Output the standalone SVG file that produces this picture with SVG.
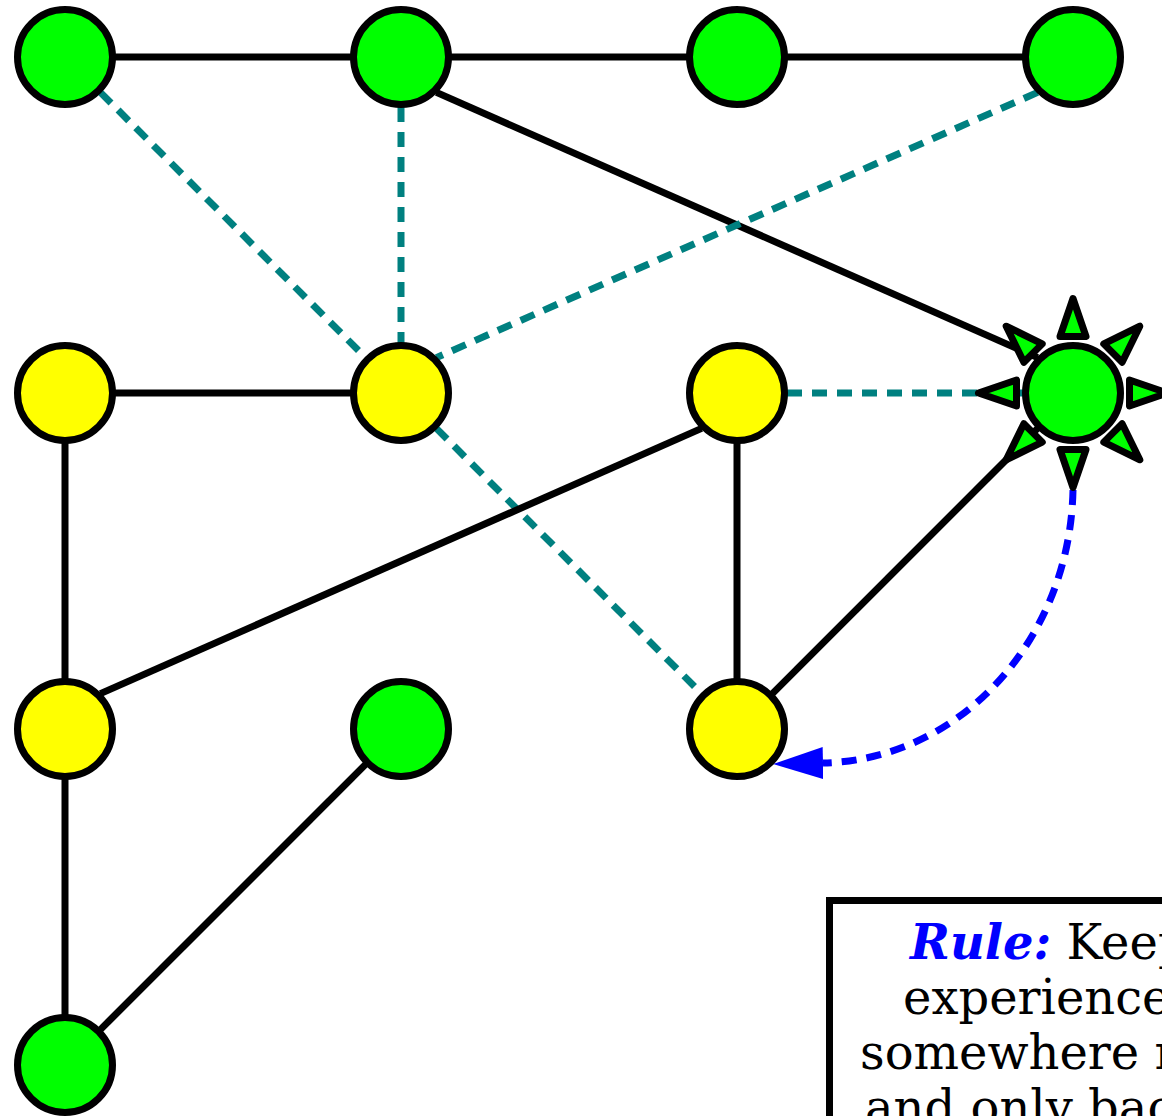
<svg xmlns="http://www.w3.org/2000/svg" width="1162" height="1116" viewBox="0 0 1162 1116">
<style>
.solid{stroke:#000;stroke-width:7;fill:none}
.dash{stroke:#008080;stroke-width:7;stroke-dasharray:15 10;fill:none}
.blue{stroke:#0000ff;stroke-width:7;stroke-dasharray:15 10;fill:none}
.g{fill:#00ff00;stroke:#000;stroke-width:7}
.y{fill:#ffff00;stroke:#000;stroke-width:7}
.ray{fill:#00ff00;stroke:#000;stroke-width:7;stroke-linejoin:round}
.txt{font-family:"DejaVu Serif","Liberation Serif",serif;font-size:48px;fill:#000}
.rule{font-weight:bold;font-style:italic;fill:#0000ff}
</style>
<defs>
<marker id="ab" markerUnits="userSpaceOnUse" markerWidth="52" markerHeight="36" viewBox="0 -18 52 36" refX="0" refY="0" orient="auto">
<path d="M0,-16 L50,0 L0,16 z" fill="#0000ff"/>
</marker>
</defs>
<rect width="1162" height="1116" fill="#fff"/>
<g id="connectors">
<line class="solid" x1="115" y1="57" x2="351" y2="57"/>
<line class="solid" x1="451" y1="57" x2="687" y2="57"/>
<line class="solid" x1="787" y1="57" x2="1023" y2="57"/>
<line class="solid" x1="436.4" y1="92.4" x2="1037.6" y2="357.6"/>
<line class="dash" x1="100.4" y1="92.4" x2="365.6" y2="357.6"/>
<line class="dash" x1="401" y1="107" x2="401" y2="343"/>
<line class="dash" x1="1037.6" y1="92.4" x2="436.4" y2="357.6"/>
<line class="solid" x1="115" y1="393" x2="351" y2="393"/>
<line class="dash" x1="787" y1="393" x2="1023" y2="393"/>
<line class="dash" x1="436.4" y1="428.4" x2="701.6" y2="693.6"/>
<line class="solid" x1="65" y1="443" x2="65" y2="679"/>
<line class="solid" x1="701.6" y1="428.4" x2="100.4" y2="693.6"/>
<line class="solid" x1="737" y1="443" x2="737" y2="679"/>
<line class="solid" x1="772.4" y1="693.6" x2="1037.6" y2="428.4"/>
<line class="solid" x1="65" y1="779" x2="65" y2="1015"/>
<line class="solid" x1="365.6" y1="764.4" x2="100.4" y2="1029.6"/>
<path class="blue" d="M1073,490 C1070,640 960,760 823,763" marker-end="url(#ab)"/>
</g>
<g id="n0"><circle class="g" cx="65" cy="57" r="47.5"/></g>
<g id="n1"><circle class="g" cx="401" cy="57" r="47.5"/></g>
<g id="n2"><circle class="g" cx="737" cy="57" r="47.5"/></g>
<g id="n3"><circle class="g" cx="1073" cy="57" r="47.5"/></g>
<g id="n4"><circle class="y" cx="65" cy="393" r="47.5"/></g>
<g id="n5"><circle class="y" cx="401" cy="393" r="47.5"/></g>
<g id="n6"><circle class="y" cx="737" cy="393" r="47.5"/></g>
<g id="n7">
<g transform="translate(1073,393)">
<polygon class="ray" points="0,-94.5 13,-56.5 -13,-56.5"/>
<polygon class="ray" points="0,-94.5 13,-56.5 -13,-56.5" transform="rotate(45)"/>
<polygon class="ray" points="0,-94.5 13,-56.5 -13,-56.5" transform="rotate(90)"/>
<polygon class="ray" points="0,-94.5 13,-56.5 -13,-56.5" transform="rotate(135)"/>
<polygon class="ray" points="0,-94.5 13,-56.5 -13,-56.5" transform="rotate(180)"/>
<polygon class="ray" points="0,-94.5 13,-56.5 -13,-56.5" transform="rotate(225)"/>
<polygon class="ray" points="0,-94.5 13,-56.5 -13,-56.5" transform="rotate(270)"/>
<polygon class="ray" points="0,-94.5 13,-56.5 -13,-56.5" transform="rotate(315)"/>
<circle class="g" cx="0" cy="0" r="47.5"/>
</g>
</g>
<g id="n8"><circle class="y" cx="65" cy="729" r="47.5"/></g>
<g id="n9"><circle class="g" cx="401" cy="729" r="47.5"/></g>
<g id="n10"><circle class="y" cx="737" cy="729" r="47.5"/></g>
<g id="n11"><circle class="g" cx="65" cy="1065" r="47.5"/></g>
<g id="note">
<rect x="829.5" y="900.5" width="400" height="300" fill="#fff" stroke="#000" stroke-width="7"/>
<text class="txt" x="910" y="959"><tspan class="rule">Rule:</tspan> Keep</text>
<text class="txt" x="903" y="1014">experience</text>
<text class="txt" x="860" y="1069">somewhere r</text>
<text class="txt" x="865" y="1124">and only bac</text>
</g>
</svg>
